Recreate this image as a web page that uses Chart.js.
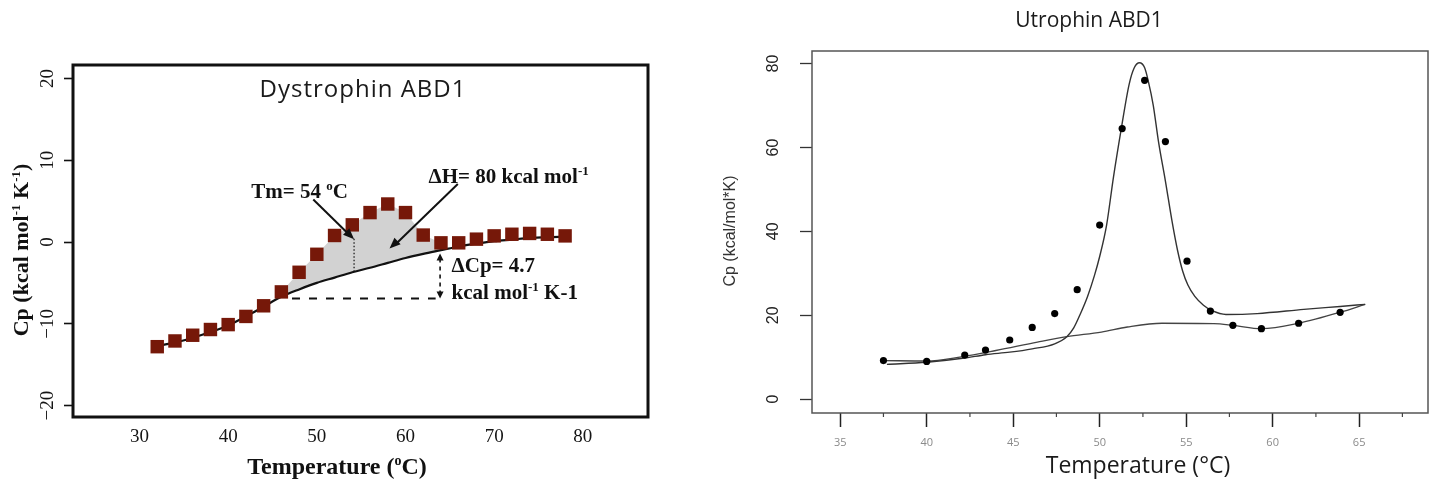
<!DOCTYPE html>
<html>
<head>
<meta charset="utf-8">
<script src="https://cdn.jsdelivr.net/npm/chart.js@4.4.0/dist/chart.umd.min.js"></script>
<style>
    html, body { margin: 0; padding: 0; background: #fff; }
    #wrap { position: relative; width: 1432px; height: 480px; overflow: hidden; }
    .box { position: absolute; top: 0; height: 480px; }
    #leftBox { left: 0; width: 700px; }
    #rightBox { left: 700px; width: 732px; }
</style>
</head>
<body>
<div id="wrap">
    <div class="box" id="leftBox"><canvas id="dysChart" width="700" height="480"></canvas></div>
    <div class="box" id="rightBox"><canvas id="utrChart" width="732" height="480"></canvas></div>
</div>
<script>
// Dystrophin ABD1 - measured Cp points and fitted baseline
const dysTemps = [32, 34, 36, 38, 40, 42, 44, 46, 48, 50, 52, 54, 56, 58, 60, 62, 64, 66, 68, 70, 72, 74, 76, 78];
const dysCp = [-12.8, -12.1, -11.4, -10.7, -10.1, -9.1, -7.8, -6.1, -3.7, -1.5, 0.8, 2.1, 3.6, 4.65, 3.6, 0.85, -0.1, -0.1, 0.35, 0.75, 0.95, 1.05, 0.95, 0.75];
const dysBaseline = [-12.7, -12.3, -11.7, -11.0, -10.2, -9.1, -7.9, -6.7, -5.8, -5.0, -4.35, -3.7, -3.15, -2.55, -1.95, -1.45, -1.0, -0.55, -0.2, 0.1, 0.3, 0.5, 0.6, 0.65];
const dysShadeFrom = 46;
const dysShadeTo = 64;
const dysXTicks = [30, 40, 50, 60, 70, 80];
const dysYTicks = [-20, -10, 0, 10, 20];

// Utrophin ABD1 - measured points, fit curve and baseline
const utrTemps = [37.5, 40.0, 42.2, 43.4, 44.8, 46.1, 47.4, 48.7, 50.0, 51.3, 52.6, 53.8, 55.05, 56.4, 57.7, 59.35, 61.5, 63.9];
const utrCp = [9.2, 9.0, 10.5, 11.7, 14.1, 17.1, 20.4, 26.1, 41.5, 64.5, 76.0, 61.4, 32.9, 21.0, 17.6, 16.8, 18.1, 20.7];
const utrFitTemps = [37.7, 40, 42.2, 43.4, 44.8, 46.1, 47.4, 48.1, 48.5, 48.9, 49.3, 49.7, 50.0, 50.4, 50.8, 51.25, 51.7, 52.0, 52.3, 52.6, 52.8, 53.1, 53.4, 53.8, 54.2, 54.5, 54.8, 55.1, 55.5, 56.0, 56.5, 57.3, 59.1, 61.8, 63.9, 65.35];
const utrFitCp = [8.3, 8.8, 9.8, 10.6, 11.2, 12.0, 13.2, 14.9, 17.0, 20.5, 24.5, 29.5, 34.0, 41.5, 53.0, 64.5, 75.0, 79.0, 80.2, 79.0, 76.0, 70.0, 61.4, 52.0, 42.0, 35.5, 30.5, 27.2, 24.5, 22.4, 21.1, 20.2, 20.4, 21.4, 22.1, 22.6];
const utrBaseTemps = [37.5, 40, 42, 44, 46.4, 48.1, 50.1, 51.6, 53.6, 56.6, 57.7, 59.35, 61.5, 63.9, 65.35];
const utrBaseCp = [9.2, 9.1, 10.1, 11.6, 13.6, 14.9, 16.0, 17.2, 18.1, 18.0, 17.6, 16.8, 18.1, 20.7, 22.6];
const utrXTicks = [35, 40, 45, 50, 55, 60, 65];
const utrMinorTicks = [37.5, 42.5, 47.5, 52.5, 57.5, 62.5, 67.5];
const utrYTicks = [0, 20, 40, 60, 80];

const SERIF = "'Liberation Serif', 'Times New Roman', serif";
const SANS = "'Liberation Sans', Arial, sans-serif";
const CAL = "'Open Sans', sans-serif";

function pts(xs, ys) {
    return xs.map((x, i) => ({ x: x, y: ys[i] }));
}

function minusLabel(v) {
    return v < 0 ? '\u2212' + Math.abs(v) : String(v);
}

// text with superscript parts, y is the baseline
function drawRich(ctx, parts, x, y, size, family, weight, align) {
    const supSize = Math.round(size * 0.6);
    const widths = parts.map(p => {
        ctx.font = `${weight} ${p.sup ? supSize : size}px ${family}`;
        return ctx.measureText(p.t).width;
    });
    const total = widths.reduce((a, b) => a + b, 0);
    let cx = align === 'center' ? x - total / 2 : x;
    ctx.textAlign = 'left';
    ctx.textBaseline = 'alphabetic';
    parts.forEach((p, i) => {
        ctx.font = `${weight} ${p.sup ? supSize : size}px ${family}`;
        ctx.fillText(p.t, cx, p.sup ? y - size * 0.38 : y);
        cx += widths[i];
    });
}

function arrowHead(ctx, x1, y1, x2, y2, len, half) {
    const a = Math.atan2(y2 - y1, x2 - x1);
    ctx.beginPath();
    ctx.moveTo(x2, y2);
    ctx.lineTo(x2 - len * Math.cos(a) + half * Math.sin(a), y2 - len * Math.sin(a) - half * Math.cos(a));
    ctx.lineTo(x2 - len * Math.cos(a) - half * Math.sin(a), y2 - len * Math.sin(a) + half * Math.cos(a));
    ctx.closePath();
    ctx.fill();
}

// frame around the plot area
const framePlugin = {
    id: 'frame',
    afterDraw(chart, args, opts) {
        const { ctx, chartArea: a } = chart;
        ctx.save();
        ctx.lineWidth = opts.width;
        ctx.strokeStyle = opts.color;
        ctx.strokeRect(a.left, a.top, a.right - a.left, a.bottom - a.top);
        ctx.restore();
    }
};

// annotations of the dystrophin panel
const dysNotes = {
    id: 'dysNotes',
    afterDatasetsDraw(chart) {
        const { ctx, scales: { x, y } } = chart;
        const X = v => x.getPixelForValue(v);
        const Y = v => y.getPixelForValue(v);
        ctx.save();
        ctx.fillStyle = '#111';
        ctx.strokeStyle = '#111';

        // dashed baseline reference
        ctx.setLineDash([8, 9]);
        ctx.lineWidth = 2;
        ctx.beginPath();
        ctx.moveTo(X(47.2), Y(-6.9));
        ctx.lineTo(X(63.4), Y(-6.9));
        ctx.stroke();

        // dashed double arrow for dCp
        ctx.setLineDash([4, 4]);
        ctx.lineWidth = 1.6;
        ctx.beginPath();
        ctx.moveTo(X(63.9), Y(-2.0));
        ctx.lineTo(X(63.9), Y(-6.3));
        ctx.stroke();
        ctx.setLineDash([]);
        arrowHead(ctx, X(63.9), Y(-2.5), X(63.9), Y(-1.4), 7, 3.5);
        arrowHead(ctx, X(63.9), Y(-6.3), X(63.9), Y(-6.9), 7, 3.5);

        // Tm dotted line
        ctx.setLineDash([1.5, 2]);
        ctx.lineWidth = 1.2;
        ctx.beginPath();
        ctx.moveTo(X(54.2), Y(0.4));
        ctx.lineTo(X(54.2), Y(-3.65));
        ctx.stroke();
        ctx.setLineDash([]);

        // arrows
        ctx.lineWidth = 2;
        ctx.beginPath();
        ctx.moveTo(X(49.6), Y(5.2));
        ctx.lineTo(X(53.6), Y(0.95));
        ctx.stroke();
        arrowHead(ctx, X(49.6), Y(5.2), X(54.2), Y(0.35), 11, 4.5);
        ctx.beginPath();
        ctx.moveTo(X(65.9), Y(7.1));
        ctx.lineTo(X(59.0), Y(-0.15));
        ctx.stroke();
        arrowHead(ctx, X(65.9), Y(7.1), X(58.2), Y(-0.8), 11, 4.5);

        // labels
        drawRich(ctx, [{ t: 'Tm= 54 ' }, { t: 'o', sup: true }, { t: 'C' }], X(42.6), Y(6.3) + 7, 21, SERIF, 'bold', 'left');
        drawRich(ctx, [{ t: '\u0394H= 80 kcal mol' }, { t: '-1', sup: true }], X(62.6), Y(8.1) + 7, 21, SERIF, 'bold', 'left');
        drawRich(ctx, [{ t: '\u0394Cp= 4.7' }], X(65.2), Y(-2.8) + 7, 21, SERIF, 'bold', 'left');
        drawRich(ctx, [{ t: 'kcal mol' }, { t: '-1', sup: true }, { t: ' K-1' }], X(65.2), Y(-6.1) + 7, 21, SERIF, 'bold', 'left');

        // panel title
        ctx.fillStyle = '#1a1a1a';
        ctx.font = `24px ${CAL}`;
        ctx.letterSpacing = '1px';
        ctx.textAlign = 'center';
        ctx.textBaseline = 'alphabetic';
        ctx.fillText('Dystrophin ABD1', 363, 97);
        ctx.restore();
    },
    afterDraw(chart) {
        const ctx = chart.ctx;
        ctx.save();
        ctx.fillStyle = '#111';
        drawRich(ctx, [{ t: 'Temperature (' }, { t: 'o', sup: true }, { t: 'C)' }], 337, 474, 24, SERIF, 'bold', 'center');
        ctx.translate(28, 250);
        ctx.rotate(-Math.PI / 2);
        drawRich(ctx, [{ t: 'Cp (kcal mol' }, { t: '-1', sup: true }, { t: ' K' }, { t: '-1', sup: true }, { t: ')' }], 0, 0, 22, SERIF, 'bold', 'center');
        ctx.restore();
    }
};

const dysShadeTemps = dysTemps.filter(t => t >= dysShadeFrom && t <= dysShadeTo);
const dysShadeCp = dysCp.filter((v, i) => dysTemps[i] >= dysShadeFrom && dysTemps[i] <= dysShadeTo);

new Chart(document.getElementById('dysChart'), {
    type: 'scatter',
    data: {
        datasets: [
            {
                label: 'shade',
                data: pts(dysShadeTemps, dysShadeCp),
                showLine: true,
                borderWidth: 0,
                borderColor: 'rgba(0,0,0,0)',
                pointRadius: 0,
                backgroundColor: '#d2d2d2',
                fill: 1,
                order: 3
            },
            {
                label: 'baseline',
                data: pts(dysTemps, dysBaseline),
                showLine: true,
                borderColor: '#111',
                borderWidth: 2.2,
                pointRadius: 0,
                cubicInterpolationMode: 'monotone',
                fill: false,
                order: 2
            },
            {
                label: 'Cp',
                data: pts(dysTemps, dysCp),
                showLine: false,
                pointStyle: 'rect',
                pointRadius: 9.5,
                pointBorderWidth: 0,
                pointBackgroundColor: '#761809',
                order: 1
            }
        ]
    },
    options: {
        responsive: false,
        animation: false,
        layout: { padding: { top: 65, right: 52, left: 0, bottom: 0 } },
        plugins: {
            legend: { display: false },
            tooltip: { enabled: false },
            frame: { width: 3, color: '#111' }
        },
        scales: {
            x: {
                type: 'linear',
                min: 22.5,
                max: 87.35,
                afterFit: s => { s.height = 63; },
                afterBuildTicks: s => { s.ticks = dysXTicks.map(v => ({ value: v })); },
                ticks: { font: { family: SERIF, size: 19 }, color: '#151515', padding: 9, maxRotation: 0 },
                grid: { display: false, drawTicks: false },
                border: { display: false }
            },
            y: {
                type: 'linear',
                min: -21.4,
                max: 21.65,
                afterFit: s => { s.width = 73; },
                afterBuildTicks: s => { s.ticks = dysYTicks.map(v => ({ value: v })); },
                ticks: {
                    font: { family: SERIF, size: 19 }, color: '#151515', padding: 1,
                    minRotation: 90, maxRotation: 90, crossAlign: 'center',
                    callback: v => minusLabel(v)
                },
                grid: { drawOnChartArea: false, drawTicks: true, tickLength: 9, tickColor: '#111', tickWidth: 1.6 },
                border: { display: false }
            }
        }
    },
    plugins: [framePlugin, dysNotes]
});

// utrophin panel: minor ticks and titles
const utrNotes = {
    id: 'utrNotes',
    afterDraw(chart) {
        const { ctx, chartArea: a, scales: { x } } = chart;
        ctx.save();
        ctx.strokeStyle = '#444';
        ctx.lineWidth = 1.2;
        utrMinorTicks.forEach(v => {
            const px = x.getPixelForValue(v);
            ctx.beginPath();
            ctx.moveTo(px, a.bottom);
            ctx.lineTo(px, a.bottom + 4);
            ctx.stroke();
        });
        ctx.fillStyle = '#1a1a1a';
        ctx.textAlign = 'center';
        ctx.textBaseline = 'middle';
        ctx.font = `21px ${CAL}`;
        ctx.fillText('Utrophin ABD1', 389, 21);
        ctx.font = `23px ${CAL}`;
        ctx.fillText('Temperature (\u00b0C)', 438, 466);
        ctx.translate(31, 231);
        ctx.rotate(-Math.PI / 2);
        ctx.font = `16px ${SANS}`;
        ctx.fillStyle = '#333';
        ctx.fillText('Cp (kcal/mol*K)', 0, 0);
        ctx.restore();
    }
};

new Chart(document.getElementById('utrChart'), {
    type: 'scatter',
    data: {
        datasets: [
            {
                label: 'points',
                data: pts(utrTemps, utrCp),
                showLine: false,
                pointStyle: 'circle',
                pointRadius: 3.6,
                pointBorderWidth: 0,
                pointBackgroundColor: '#000',
                order: 1
            },
            {
                label: 'fit',
                data: pts(utrFitTemps, utrFitCp),
                showLine: true,
                borderColor: '#333',
                borderWidth: 1.4,
                pointRadius: 0,
                cubicInterpolationMode: 'monotone',
                order: 2
            },
            {
                label: 'baseline',
                data: pts(utrBaseTemps, utrBaseCp),
                showLine: true,
                borderColor: '#444',
                borderWidth: 1.3,
                pointRadius: 0,
                cubicInterpolationMode: 'monotone',
                order: 3
            }
        ]
    },
    options: {
        responsive: false,
        animation: false,
        layout: { padding: { top: 51, right: 4, left: 0, bottom: 0 } },
        plugins: {
            legend: { display: false },
            tooltip: { enabled: false },
            frame: { width: 1.5, color: '#555' }
        },
        scales: {
            x: {
                type: 'linear',
                min: 33.37,
                max: 68.98,
                afterFit: s => { s.height = 67; },
                afterBuildTicks: s => { s.ticks = utrXTicks.map(v => ({ value: v })); },
                ticks: { font: { family: CAL, size: 11 }, color: '#8a8a8a', padding: 9, maxRotation: 0 },
                grid: { drawOnChartArea: false, drawTicks: true, tickLength: 14, tickColor: '#222', tickWidth: 1.5 },
                border: { display: false }
            },
            y: {
                type: 'linear',
                min: -3.3,
                max: 83,
                afterFit: s => { s.width = 112; },
                afterBuildTicks: s => { s.ticks = utrYTicks.map(v => ({ value: v })); },
                ticks: {
                    font: { family: SANS, size: 16 }, color: '#222', padding: 18,
                    minRotation: 90, maxRotation: 90, crossAlign: 'center'
                },
                grid: { drawOnChartArea: false, drawTicks: true, tickLength: 12, tickColor: '#333', tickWidth: 1.3 },
                border: { display: false }
            }
        }
    },
    plugins: [framePlugin, utrNotes]
});
</script>
</body>
</html>
